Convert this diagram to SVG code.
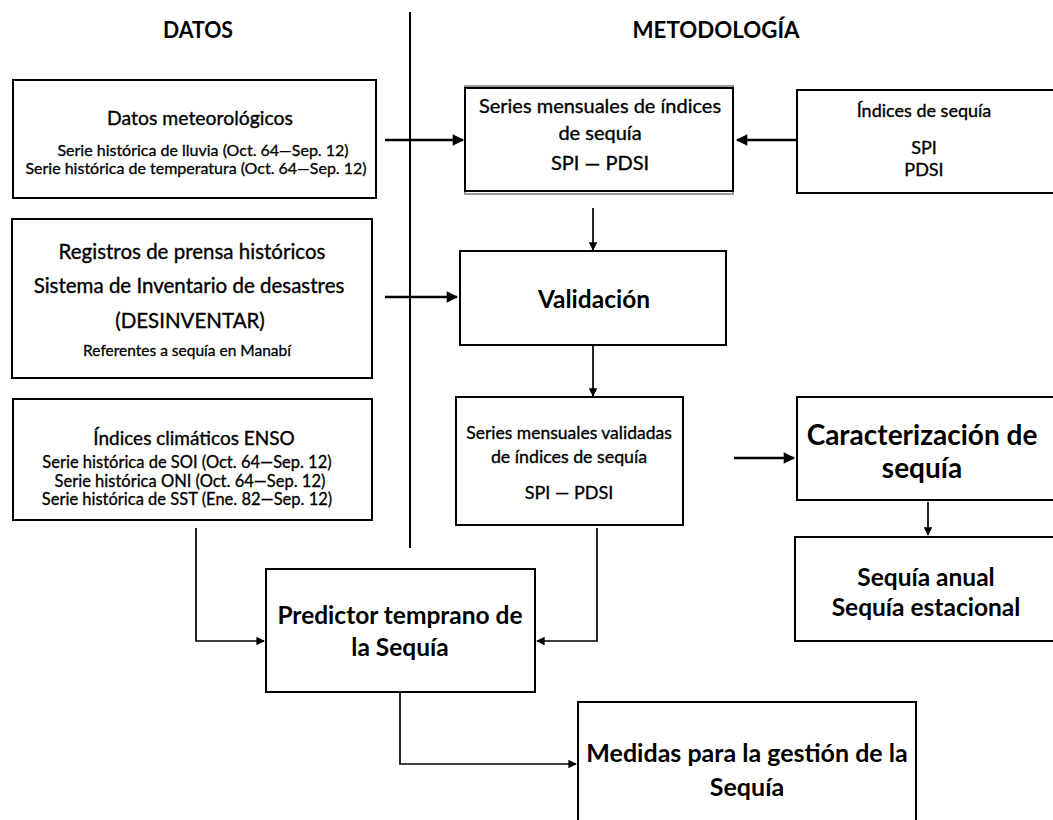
<svg xmlns="http://www.w3.org/2000/svg" width="1053" height="820" viewBox="0 0 1053 820">
<style>
.box{fill:#fff;stroke:#000;stroke-width:2}
.sh{fill:none;stroke:#999;stroke-width:2}
text{font-family:Lato,"Open Sans",sans-serif;fill:#000;text-anchor:middle}
.hd{font-weight:bold;font-size:23px}
.t{font-size:20px;stroke:#000;stroke-width:0.35}
.s{font-size:16.5px;stroke:#000;stroke-width:0.3}
.b{font-weight:bold;font-size:24.5px}
.thick{stroke:#000;stroke-width:2.6;fill:none}
.thin{stroke:#000;stroke-width:1.7;fill:none}
</style>
<defs>
<marker id="big" viewBox="0 0 10 10" refX="9" refY="5" markerWidth="5" markerHeight="4.4" markerUnits="strokeWidth" orient="auto"><path d="M0,0 L10,5 L0,10 Z" fill="#000"/></marker>
<marker id="sm" viewBox="0 0 10 10" refX="9" refY="5" markerWidth="6" markerHeight="5" markerUnits="strokeWidth" orient="auto"><path d="M0,0 L10,5 L0,10 Z" fill="#000"/></marker>
</defs>
<rect width="1053" height="820" fill="#fff"/>
<g id="headings">
<text class="hd" x="198" y="38" textLength="70" lengthAdjust="spacingAndGlyphs">DATOS</text>
<text class="hd" x="716" y="38" textLength="167" lengthAdjust="spacingAndGlyphs">METODOLOGÍA</text>
</g>
<g id="connectors">
<line x1="410" y1="12" x2="410" y2="548" stroke="#000" stroke-width="2"/>
<line class="thick" x1="385" y1="140" x2="463" y2="140" marker-end="url(#big)"/>
<line class="thick" x1="797" y1="140" x2="737" y2="140" marker-end="url(#big)"/>
<line class="thick" x1="385" y1="297" x2="457" y2="297" marker-end="url(#big)"/>
<line class="thin" x1="593" y1="208" x2="593" y2="250" marker-end="url(#sm)"/>
<line class="thin" x1="593" y1="346" x2="593" y2="396" marker-end="url(#sm)"/>
<line class="thick" x1="734" y1="458" x2="794" y2="458" marker-end="url(#big)"/>
<line class="thin" x1="928" y1="502" x2="928" y2="535" marker-end="url(#sm)"/>
<polyline class="thin" points="196,528 196,641 264,641" marker-end="url(#sm)"/>
<polyline class="thin" points="597,528 597,641 537,641" marker-end="url(#sm)"/>
<polyline class="thin" points="400,693 400,764 576,764" marker-end="url(#sm)"/>
</g>
<g id="datos-meteorologicos">
<rect class="box" x="13" y="80" width="363" height="118"/>
<text class="t" x="200" y="125" style="font-size:19.4px">Datos meteorológicos</text>
<text class="s" x="203" y="156" style="font-size:16px">Serie histórica de lluvia (Oct. 64—Sep. 12)</text>
<text class="s" x="196" y="174" style="font-size:16px">Serie histórica de temperatura (Oct. 64—Sep. 12)</text>
</g>
<g id="series-mensuales">
<rect class="sh" x="465" y="86" width="268" height="108"/>
<rect class="box" x="465" y="88" width="268" height="103"/>
<text class="t" x="600" y="113">Series mensuales de índices</text>
<text class="t" x="600" y="140">de sequía</text>
<text class="t" x="600" y="170">SPI — PDSI</text>
</g>
<g id="indices-sequia">
<rect class="box" x="797" y="90" width="262" height="103"/>
<text class="t" x="924" y="117" style="font-size:18px">Índices de sequía</text>
<text class="t" x="924" y="154" style="font-size:18px">SPI</text>
<text class="t" x="924" y="176" style="font-size:18px">PDSI</text>
</g>
<g id="registros-prensa">
<rect class="box" x="12" y="219" width="360" height="159"/>
<text class="t" x="192" y="259" style="font-size:20.5px">Registros de prensa históricos</text>
<text class="t" x="189" y="293" style="font-size:20.5px">Sistema de Inventario de desastres</text>
<text class="t" x="190" y="328" style="font-size:20.5px">(DESINVENTAR)</text>
<text class="s" x="187" y="356" style="font-size:15.5px">Referentes a sequía en Manabí</text>
</g>
<g id="validacion">
<rect class="box" x="460" y="251" width="266" height="94"/>
<text class="b" x="594" y="308">Validación</text>
</g>
<g id="indices-enso">
<rect class="box" x="13" y="399" width="359" height="121"/>
<text class="t" x="194" y="445" style="font-size:19px">Índices climáticos ENSO</text>
<text class="s" x="187" y="468">Serie histórica de SOI (Oct. 64—Sep. 12)</text>
<text class="s" x="190" y="487">Serie histórica ONI (Oct. 64—Sep. 12)</text>
<text class="s" x="187" y="505">Serie histórica de SST (Ene. 82—Sep. 12)</text>
</g>
<g id="series-validadas">
<rect class="box" x="456" y="397" width="227" height="128"/>
<text class="t" x="569" y="439" style="font-size:17.5px">Series mensuales validadas</text>
<text class="t" x="569" y="463" style="font-size:17.8px">de índices de sequía</text>
<text class="t" x="569" y="499" style="font-size:18px">SPI — PDSI</text>
</g>
<g id="caracterizacion">
<rect class="box" x="797" y="397" width="260" height="103"/>
<text class="b" x="922" y="445" style="font-size:28px">Caracterización de</text>
<text class="b" x="922" y="478" style="font-size:28px">sequía</text>
</g>
<g id="sequia-anual">
<rect class="box" x="795" y="537" width="262" height="104"/>
<text class="b" x="926" y="586">Sequía anual</text>
<text class="b" x="926" y="616">Sequía estacional</text>
</g>
<g id="predictor">
<rect class="box" x="266" y="569" width="269" height="123"/>
<text class="b" x="400" y="624">Predictor temprano de</text>
<text class="b" x="400" y="656">la Sequía</text>
</g>
<g id="medidas">
<rect class="box" x="578" y="702" width="338" height="130"/>
<text class="b" x="747" y="762" style="font-size:25px">Medidas para la gestión de la</text>
<text class="b" x="747" y="796" style="font-size:25px">Sequía</text>
</g>
</svg>
